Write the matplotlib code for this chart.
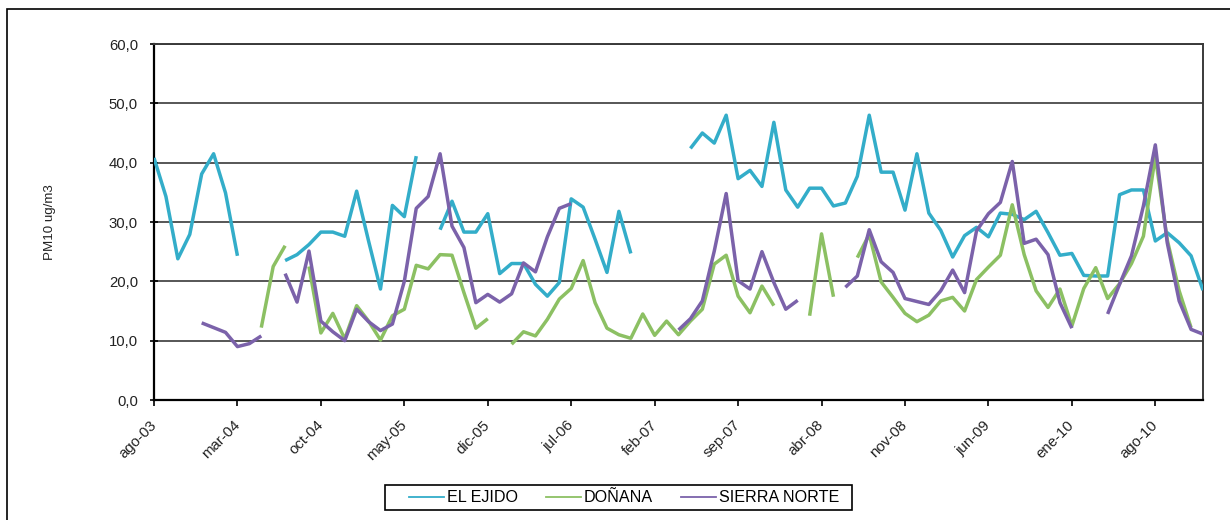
import numpy as np
import matplotlib.pyplot as plt
from matplotlib.lines import Line2D
from matplotlib.patches import Rectangle

plt.rcParams['font.family'] = ['Liberation Sans', 'DejaVu Sans']

nan = np.nan

# monthly series, ago-03 .. dic-10 (89 months)
meses = ['ene', 'feb', 'mar', 'abr', 'may', 'jun', 'jul', 'ago', 'sep', 'oct', 'nov', 'dic']
n_months = 89
labels = []
for k in range(n_months):
    m = (7 + k) % 12
    y = 3 + (7 + k) // 12
    labels.append('%s-%02d' % (meses[m], y))

el_ejido = [40.8, 34.3, 23.8, 27.9, 38.1, 41.5, 34.9, 24.3, nan, nan,
            nan, 23.5, 24.5, 26.2, 28.3, 28.3, 27.6, 35.2, 26.8, 18.7,
            32.8, 30.9, 41.1, nan, 28.7, 33.5, 28.3, 28.3, 31.4, 21.3,
            23.0, 23.0, 19.5, 17.5, 19.8, 33.9, 32.5, 27.1, 21.5, 31.8,
            24.7, nan, nan, nan, nan, 42.4, 45.0, 43.3, 48.0, 37.3,
            38.7, 36.0, 46.8, 35.4, 32.5, 35.7, 35.7, 32.7, 33.2, 37.7,
            48.0, 38.4, 38.4, 32.0, 41.5, 31.5, 28.6, 24.1, 27.7, 29.1,
            27.5, 31.5, 31.3, 30.4, 31.8, 28.2, 24.4, 24.7, 21.0, 20.9,
            20.9, 34.6, 35.4, 35.4, 26.8, 28.2, 26.5, 24.3, 18.5]

donana = [nan, nan, nan, nan, nan, nan, nan, nan, nan, 12.2,
          22.5, 26.0, nan, 22.5, 11.3, 14.6, 10.3, 15.9, 13.3, 10.1,
          14.2, 15.3, 22.7, 22.1, 24.5, 24.4, 18.1, 12.1, 13.7, nan,
          9.4, 11.5, 10.8, 13.6, 17.0, 18.8, 23.5, 16.4, 12.1, 11.0,
          10.4, 14.5, 10.9, 13.3, 11.0, 13.3, 15.3, 22.9, 24.4, 17.5,
          14.7, 19.2, 15.9, nan, nan, 14.2, 28.0, 17.4, nan, 24.0,
          27.9, 19.9, 17.3, 14.6, 13.2, 14.3, 16.7, 17.3, 15.0, 20.3,
          22.4, 24.4, 32.9, 24.5, 18.4, 15.6, 18.7, 12.5, 18.8, 22.3,
          17.1, 19.6, 23.0, 27.6, 41.1, 27.0, 18.4, 12.2, nan]

sierra_norte = [nan, nan, nan, nan, 13.0, 12.2, 11.4, 9.0, 9.5, 10.8,
                nan, 21.3, 16.5, 25.1, 13.3, 11.5, 10.0, 15.3, 13.2, 11.7,
                12.8, 20.0, 32.3, 34.3, 41.5, 29.3, 25.7, 16.4, 17.8, 16.5,
                17.9, 23.1, 21.6, 27.5, 32.3, 33.1, nan, nan, nan, nan,
                nan, nan, nan, nan, 11.8, 13.7, 16.7, 25.1, 34.8, 20.1,
                18.7, 25.0, 19.8, 15.3, 16.8, nan, nan, nan, 19.0, 20.9,
                28.7, 23.3, 21.5, 17.1, 16.6, 16.1, 18.4, 21.9, 18.1, 28.5,
                31.4, 33.3, 40.2, 26.4, 27.1, 24.5, 16.4, 12.1, nan, nan,
                14.5, 19.5, 24.3, 32.7, 43.0, 26.5, 16.7, 11.9, 11.1]

series_names = ['EL EJIDO', 'DOÑANA', 'SIERRA NORTE']
colors = ['#33adc9', '#8cc063', '#7b62aa']

W, H = 1230, 520
fig = plt.figure(figsize=(W / 100, H / 100), dpi=100)
ax = fig.add_axes([154 / W, 1 - 400 / H, (1203 - 154) / W, (400 - 44) / H])

x = np.arange(n_months)
for vals, c in zip([el_ejido, donana, sierra_norte], colors):
    ax.plot(x, vals, color=c, lw=2.5, solid_capstyle='butt', solid_joinstyle='round', zorder=3)

ax.set_xlim(0, n_months - 1)
ax.set_ylim(0, 60)
ax.set_yticks(np.arange(0, 61, 10))
ax.set_yticklabels(['%d,0' % v for v in range(0, 61, 10)], fontsize=10.7, color='#222222')
ax.yaxis.grid(True, color='#3a3a3a', lw=1.2)
ax.set_axisbelow(True)

xt = np.arange(0, n_months, 7)
ax.set_xticks(xt)
ax.set_xticklabels([labels[k] for k in xt], rotation=45, ha='right', va='center',
                   rotation_mode='anchor', fontsize=10.8, color='#222222')
ax.tick_params(axis='x', direction='out', length=4, width=1.2, pad=12.5)
ax.tick_params(axis='y', direction='inout', length=6, width=1.2, pad=8.5)

for s in ['left', 'bottom']:
    ax.spines[s].set_linewidth(1.6)
    ax.spines[s].set_color('black')
for s in ['top', 'right']:
    ax.spines[s].set_linewidth(1.4)
    ax.spines[s].set_color('#3a3a3a')

fig.text(50 / W, 1 - 222 / H, 'PM10 ug/m3', rotation=90, ha='center',
         va='center', fontsize=9.6, color='#222222')

# legend: entries without frame, box drawn separately
handles = [Line2D([], [], color=c, lw=1.3) for c in colors]
fig.legend(handles, series_names, loc='center left', bbox_to_anchor=(409 / W, 1 - 498 / H),
           ncol=3, fontsize=11.6, frameon=False, borderpad=0, borderaxespad=0,
           handlelength=2.15, columnspacing=1.75, handletextpad=0.2)
fig.add_artist(Rectangle((385 / W, 1 - 510 / H), (852 - 385) / W, 25 / H,
                         transform=fig.transFigure, fill=False, ec='black', lw=1.2))

# outer chart border (cut off at right and bottom)
fig.add_artist(Rectangle((7 / W, -0.2), 1.5, 1.2 - 9 / H, transform=fig.transFigure,
                         fill=False, ec='black', lw=1.2))

fig.savefig('out.png', dpi=100)
